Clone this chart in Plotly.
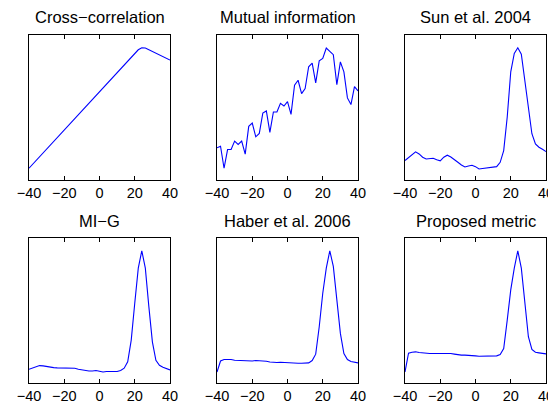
import plotly.graph_objects as go

# shift (x) sampled every 2 units from -40 to 40
shift = list(range(-40, 41, 2))

titles = ["Cross\u2212correlation", "Mutual information", "Sun et al. 2004",
          "MI\u2212G", "Haber et al. 2006", "Proposed metric"]

# Cross-correlation: piecewise-linear curve (key points)
xcorr_x = [-40, 22, 24, 26, 40]
xcorr_y = [0.081, 0.898, 0.912, 0.910, 0.827]

mutual_info = [0.222, 0.233, 0.081, 0.210, 0.210, 0.268, 0.245, 0.268, 0.178, 0.370,
               0.393, 0.298, 0.321, 0.462, 0.476, 0.328, 0.469, 0.469, 0.529, 0.510,
               0.540, 0.453, 0.654, 0.688, 0.596, 0.630, 0.781, 0.806, 0.670, 0.822,
               0.838, 0.910, 0.887, 0.864, 0.658, 0.815, 0.746, 0.566, 0.520, 0.644,
               0.614]

sun_2004 = [0.134, 0.152, 0.176, 0.194, 0.180, 0.157, 0.145, 0.148, 0.150, 0.139,
            0.132, 0.157, 0.171, 0.159, 0.143, 0.122, 0.104, 0.090, 0.097, 0.102,
            0.092, 0.076, 0.079, 0.083, 0.088, 0.088, 0.092, 0.122, 0.203, 0.434,
            0.746, 0.873, 0.912, 0.868, 0.688, 0.480, 0.319, 0.249, 0.226, 0.212,
            0.196]

mi_g = [0.095, 0.104, 0.113, 0.120, 0.118, 0.113, 0.109, 0.106, 0.104, 0.104,
        0.104, 0.106, 0.106, 0.102, 0.095, 0.090, 0.086, 0.083, 0.083, 0.086,
        0.081, 0.076, 0.079, 0.079, 0.079, 0.079, 0.086, 0.102, 0.146, 0.296,
        0.550, 0.792, 0.912, 0.792, 0.527, 0.284, 0.157, 0.122, 0.109, 0.099,
        0.090]

haber_2006 = [0.076, 0.152, 0.162, 0.164, 0.162, 0.157, 0.155, 0.155, 0.152, 0.152,
              0.152, 0.155, 0.155, 0.152, 0.150, 0.145, 0.141, 0.141, 0.143, 0.141,
              0.139, 0.136, 0.136, 0.136, 0.136, 0.136, 0.139, 0.155, 0.199, 0.388,
              0.619, 0.792, 0.912, 0.804, 0.584, 0.342, 0.203, 0.162, 0.148, 0.143,
              0.139]

proposed = [0.076, 0.206, 0.212, 0.215, 0.210, 0.206, 0.203, 0.203, 0.203, 0.203,
            0.203, 0.206, 0.208, 0.203, 0.199, 0.194, 0.192, 0.192, 0.192, 0.189,
            0.187, 0.185, 0.185, 0.185, 0.185, 0.187, 0.187, 0.196, 0.238, 0.434,
            0.642, 0.792, 0.912, 0.792, 0.550, 0.319, 0.231, 0.212, 0.208, 0.203,
            0.201]

tick_vals = [-40, -20, 0, 20, 40]

series = [(xcorr_x, xcorr_y), (shift, mutual_info), (shift, sun_2004),
          (shift, mi_g), (shift, haber_2006), (shift, proposed)]

W, H = 556, 407
OFF = 8  # page body margin: the figure is drawn 8 px right/down in the window
col_px = [(29 - OFF, 170 - OFF), (217 - OFF, 358 - OFF), (405 - OFF, 546 - OFF)]
row_px = [(35 - OFF, 180 - OFF), (238 - OFF, 383 - OFF)]
title_y_px = [17 - OFF, 221 - OFF]

FONT = "Liberation Sans, Arial, Helvetica, sans-serif"

fig = go.Figure()
layout = dict(width=W, height=H, margin=dict(l=0, r=0, t=0, b=0, autoexpand=False),
              paper_bgcolor="white", plot_bgcolor="white", showlegend=False,
              font=dict(family=FONT, size=14.5, color="black"), annotations=[])

for i, (xs, ys) in enumerate(series):
    r, c = divmod(i, 3)
    n = i + 1
    xa = "x" if n == 1 else f"x{n}"
    ya = "y" if n == 1 else f"y{n}"
    fig.add_trace(go.Scatter(x=xs, y=ys, mode="lines",
                             line=dict(color="#0000ff", width=1.1),
                             xaxis=xa, yaxis=ya, hoverinfo="skip"))
    x0, x1 = col_px[c]
    y0, y1 = row_px[r]
    xkey = "xaxis" if n == 1 else f"xaxis{n}"
    ykey = "yaxis" if n == 1 else f"yaxis{n}"
    layout[xkey] = dict(domain=[x0 / W, x1 / W], anchor=ya, range=[-40, 40],
                        tickvals=tick_vals, ticks="inside", ticklen=4,
                        tickcolor="black", tickwidth=1,
                        showline=True, linecolor="black", linewidth=1,
                        mirror="ticks", showgrid=False, zeroline=False,
                        automargin=False,
                        tickfont=dict(family=FONT, size=14.5, color="black"))
    layout[ykey] = dict(domain=[1 - y1 / H, 1 - y0 / H], anchor=xa, range=[0, 1],
                        showticklabels=False, ticks="", showline=True,
                        linecolor="black", linewidth=1, mirror=True,
                        automargin=False,
                        showgrid=False, zeroline=False)
    layout["annotations"].append(dict(
        text=titles[i], xref="paper", yref="paper",
        x=(x0 + x1) / 2 / W, y=1 - title_y_px[r] / H,
        xanchor="center", yanchor="middle", showarrow=False,
        font=dict(family=FONT, size=16.5, color="black")))

fig.update_layout(**layout)
fig.write_html("out.html")
